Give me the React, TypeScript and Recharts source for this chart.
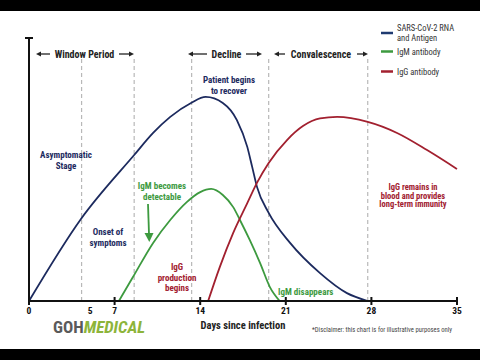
import React from 'react';
import { LineChart, Line, XAxis, YAxis, ReferenceLine } from 'recharts';

const W = 480;
const H = 360;
const FONT = '"Liberation Sans Narrow", "Roboto Condensed", "Liberation Sans", Arial, sans-serif';

const NAVY = '#1c2a5e';
const GREEN = '#3d9a3f';
const RED = '#a2202f';

// x axis
const dayTicks = [0, 5, 7, 14, 21, 28, 35];
const phaseBoundaries = [4.3, 8.6, 13.3, 19.6, 27.7];

// SARS-CoV-2 RNA and antigen
const rnaDays = [0, 4.25, 8.6, 10.15, 11.55, 13.25, 14.45, 15.85, 17.0, 17.85, 18.25, 18.65, 19.6, 21.35, 23.8, 26.0, 27.7];
const rnaLevel = [0, 31.2, 55.5, 63.9, 70.0, 75.3, 77.6, 75.3, 68.8, 58.6, 51.0, 43.3, 33.5, 22.1, 10.6, 3.0, 0];

// IgM antibody
const igmDays = [7.35, 8.5, 10.15, 11.55, 12.9, 14.0, 14.9, 15.85, 16.7, 17.25, 18.05, 18.9, 19.7, 20.5];
const igmLevel = [0, 9.1, 22.1, 30.8, 37.6, 41.4, 42.6, 40.3, 35.7, 30.8, 23.2, 14.4, 5.3, 0];

// IgG antibody
const iggDays = [14.65, 15.6, 16.7, 17.85, 18.65, 19.6, 21.1, 22.4, 23.8, 25.2, 27.7, 30.1, 32.55, 35];
const iggLevel = [0, 12.9, 25.9, 37.2, 45.0, 52.5, 61.2, 66.5, 69.4, 70.0, 68.1, 63.9, 57.4, 50.2];

const toSeries = (days: number[], levels: number[]) => days.map((d, i) => ({ day: d, v: levels[i] }));

const rnaData = toSeries(rnaDays, rnaLevel);
const igmData = toSeries(igmDays, igmLevel);
const iggData = toSeries(iggDays, iggLevel);

const DayTick = (props: any) => {
  const { x, y, payload } = props;
  const axisY = y - 8;
  return (
    <g>
      {payload.value !== 5 && (
        <line x1={x} x2={x} y1={axisY - 4} y2={axisY + 4} stroke="#111" strokeWidth={2} />
      )}
      <text x={x} y={axisY + 13} textAnchor="middle" fontFamily={FONT} fontSize={9.5} fontWeight={700} fill="#111">
        {payload.value}
      </text>
    </g>
  );
};

const PhaseHeader = ({ x1, x2, t1, t2, label }: { x1: number; x2: number; t1: number; t2: number; label: string }) => (
  <g stroke="#222" fill="#222">
    <line x1={x1 + 4} x2={t1} y1={54} y2={54} strokeWidth={1.3} />
    <line x1={t2} x2={x2 - 4} y1={54} y2={54} strokeWidth={1.3} />
    <path d={`M${x1},54 L${x1 + 5},51.5 L${x1 + 5},56.5 Z`} stroke="none" />
    <path d={`M${x2},54 L${x2 - 5},51.5 L${x2 - 5},56.5 Z`} stroke="none" />
    <text x={(t1 + t2) / 2} y={54} stroke="none" textAnchor="middle" dominantBaseline="central" fontFamily={FONT} fontSize={10} fontWeight={700}>
      {label}
    </text>
  </g>
);

const Note = ({ x, y, lines, color, gap = 10.5, size = 9, anchor = 'middle' }: any) => (
  <text fontFamily={FONT} fontSize={size} fontWeight={700} fill={color} textAnchor={anchor}>
    {lines.map((l: string, i: number) => (
      <tspan key={i} x={x} y={y + i * gap} dominantBaseline="central">
        {l}
      </tspan>
    ))}
  </text>
);

export default function App() {
  return (
    <div style={{ position: 'absolute', left: 0, top: 0, width: W, height: H, background: '#000' }}>
      <div style={{ position: 'absolute', left: 0, top: 11, width: W, height: 338, background: '#fff' }} />
      <div style={{ position: 'absolute', left: 0, top: 0 }}>
        <LineChart width={W} height={H} margin={{ top: 38, right: 23, bottom: 39, left: 29 }}>
          <XAxis
            type="number"
            dataKey="day"
            domain={[0, 35]}
            ticks={dayTicks}
            interval={0}
            height={20}
            axisLine={{ stroke: '#111', strokeWidth: 2 }}
            tickLine={false}
            tick={<DayTick />}
          />
          <YAxis type="number" domain={[0, 100]} hide />
          {phaseBoundaries.map((d) => (
            <ReferenceLine
              key={d}
              segment={[
                { x: d, y: 0 },
                { x: d, y: 92 },
              ]}
              stroke="#b8b8b8"
              strokeWidth={1.2}
              strokeDasharray="4 3"
            />
          ))}
          <ReferenceLine
            segment={[
              { x: 0, y: 0 },
              { x: 0, y: 100 },
            ]}
            stroke="#111"
            strokeWidth={2}
            ifOverflow="visible"
          />
          <Line data={rnaData} dataKey="v" type="monotone" stroke={NAVY} strokeWidth={1.8} dot={false} isAnimationActive={false} />
          <Line data={igmData} dataKey="v" type="monotone" stroke={GREEN} strokeWidth={1.8} dot={false} isAnimationActive={false} />
          <Line data={iggData} dataKey="v" type="monotone" stroke={RED} strokeWidth={1.8} dot={false} isAnimationActive={false} />
        </LineChart>
      </div>
      <svg width={W} height={H} style={{ position: 'absolute', left: 0, top: 0, pointerEvents: 'none' }}>
        <line x1={25} x2={33} y1={38} y2={38} stroke="#111" strokeWidth={2} />

        <PhaseHeader x1={36} x2={134} t1={50} t2={119} label="Window Period" />
        <PhaseHeader x1={188} x2={262} t1={207} t2={246} label="Decline" />
        <PhaseHeader x1={274} x2={368} t1={285} t2={357} label="Convalescence" />

        <g fontFamily={FONT} fontSize={8.5} fill="#333">
          <line x1={381} x2={393} y1={33} y2={33} stroke="#1f3a70" strokeWidth={2.5} />
          <text x={397} y={28} dominantBaseline="central">SARS-CoV-2 RNA</text>
          <text x={397} y={38} dominantBaseline="central">and Antigen</text>
          <line x1={381} x2={393} y1={51.5} y2={51.5} stroke={GREEN} strokeWidth={2.5} />
          <text x={397} y={52} dominantBaseline="central">IgM antibody</text>
          <line x1={381} x2={393} y1={71.5} y2={71.5} stroke={RED} strokeWidth={2.5} />
          <text x={397} y={72} dominantBaseline="central">IgG antibody</text>
        </g>

        <Note x={229} y={80} lines={['Patient begins', 'to recover']} color={NAVY} />
        <Note x={66} y={155} lines={['Asymptomatic', 'Stage']} color={NAVY} />
        <Note x={108} y={232} lines={['Onset of', 'symptoms']} color={NAVY} />
        <Note x={162} y={186} lines={['IgM becomes', 'detectable']} color={GREEN} />
        <Note x={177} y={267} lines={['IgG', 'production', 'begins']} color={RED} />
        <Note x={278} y={292} lines={['IgM disappears']} color={GREEN} anchor="start" />
        <Note x={413} y={187} lines={['IgG remains in', 'blood and provides', 'long-term immunity']} color={RED} gap={8.6} size={8.5} />

        <line x1={148} y1={204} x2={149} y2={234} stroke={GREEN} strokeWidth={1.8} />
        <path d="M144.5,233 L153.5,233 L149.3,242 Z" fill={GREEN} />

        <text x={243} y={325} textAnchor="middle" dominantBaseline="central" fontFamily={FONT} fontSize={10.5} fontWeight={700} fill="#222">
          Days since infection
        </text>
        <text
          x={312}
          y={329}
          dominantBaseline="central"
          fontFamily={FONT}
          fontSize={7.2}
          fill="#444"
          textLength={140}
          lengthAdjust="spacingAndGlyphs"
        >
          *Disclaimer: this chart is for illustrative purposes only
        </text>

        <text x={53} y={327} dominantBaseline="central" fontFamily={FONT} fontSize={17} fontWeight={700}>
          <tspan fill="#5a5a5a">GOH</tspan>
          <tspan fill="#8db43a" fontStyle="italic">MEDICAL</tspan>
        </text>
      </svg>
    </div>
  );
}
